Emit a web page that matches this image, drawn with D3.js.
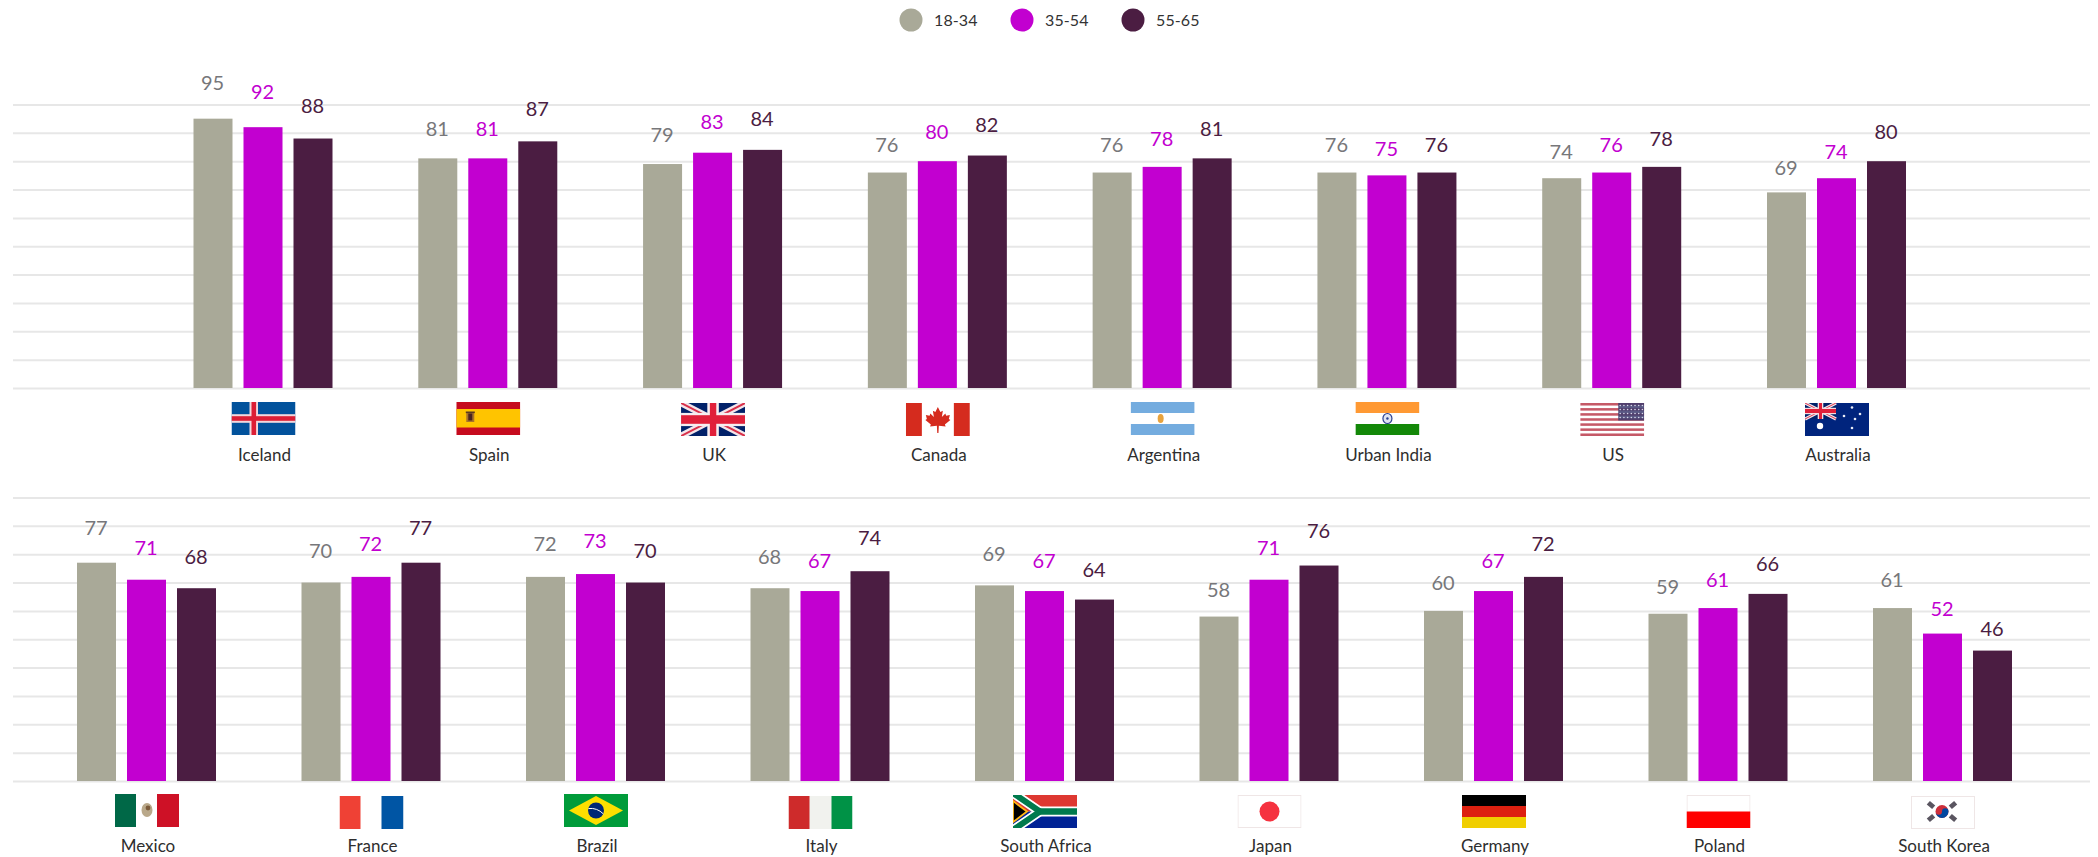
<!DOCTYPE html>
<html><head><meta charset="utf-8">
<script src="https://cdn.jsdelivr.net/npm/d3@7/dist/d3.min.js"></script>
<style>html,body{margin:0;padding:0;background:#fff;overflow:hidden}svg{display:block}text{font-family:Lato,sans-serif}</style>
</head><body><svg id="c" width="2098" height="857"></svg>
<script>
const seriesNames = ["18-34","35-54","55-65"];
const seriesColors = ["#a9a998","#c200d0","#4b1d42"];
const labelColors = ["#77777a","#c200d0","#4b1d42"];
const topCountries = ["Iceland","Spain","UK","Canada","Argentina","Urban India","US","Australia"];
const top1834 = [95,81,79,76,76,76,74,69];
const top3554 = [92,81,83,80,78,75,76,74];
const top5565 = [88,87,84,82,81,76,78,80];
const botCountries = ["Mexico","France","Brazil","Italy","South Africa","Japan","Germany","Poland","South Korea"];
const bot1834 = [77,70,72,68,69,58,60,59,61];
const bot3554 = [71,72,73,67,67,71,67,61,52];
const bot5565 = [68,77,70,74,64,76,72,66,46];
const gridTicks = [0,10,20,30,40,50,60,70,80,90,100];

const svg = d3.select("#c");
const FW=64, FH=33;
let clipId=0;
const flagNudge={"Iceland":-1,"Spain":-1,"Argentina":-1,"Urban India":-1,"Mexico":-1,"Brazil":-1,"France":1,"Italy":1,"South Korea":1};
const leaf="M32 4 L34.5 9 L37 7.8 L36 14 L39.5 10.5 L40.3 12.8 L44 12 L43 16 L44.5 17 L39 21.5 L39.8 23.5 L33 22.8 L32.6 30 L31.4 30 L31 22.8 L24.2 23.5 L25 21.5 L19.5 17 L21 16 L20 12 L23.7 12.8 L24.5 10.5 L28 14 L27 7.8 L29.5 9 Z";
function R(g,x,y,w,h,f,o){const r=g.append("rect").attr("x",x).attr("y",y).attr("width",w).attr("height",h).attr("fill",f);if(o!=null)r.attr("opacity",o);return r;}
function P(g,d,f,s,sw){return g.append("path").attr("d",d).attr("fill",f||"none").attr("stroke",s||"none").attr("stroke-width",sw||0);}
function C(g,x,y,r,f){return g.append("circle").attr("cx",x).attr("cy",y).attr("r",r).attr("fill",f);}
function union(g,w,h){
  R(g,0,0,w,h,"#012169");
  const d=`M0 0L${w} ${h}M${w} 0L0 ${h}`;
  P(g,d,null,"#f4e6ea",h*.2);P(g,d,null,"#d8304a",h*.06);
  R(g,w*.41,0,w*.18,h,"#f6eef0");R(g,0,h*.3,w,h*.4,"#f6eef0");
  R(g,w*.45,0,w*.1,h,"#e0203a");R(g,0,h*.37,w,h*.26,"#e0203a");
}
const frame=g=>g.append("rect").attr("x",.5).attr("y",.5).attr("width",FW-1).attr("height",FH-1).attr("fill","none").attr("stroke","#efe6e6").attr("stroke-width",1);
const flagDraw={
 "Iceland":g=>{R(g,0,0,FW,FH,"#02529c");R(g,18,0,8.5,FH,"#f2d8dc");R(g,0,12.2,FW,8.6,"#f2d8dc");R(g,20,0,4.6,FH,"#dc1e35");R(g,0,14.2,FW,4.6,"#dc1e35");},
 "Spain":g=>{R(g,0,0,FW,FH,"#c60b1e");R(g,0,7,FW,18.5,"#ffc400");R(g,10,10,8,10,"#a8722a");R(g,12,11.5,4,7,"#4a2420");R(g,9.5,9.5,9,1.6,"#5a3a20");},
 "UK":g=>union(g,FW,FH),
 "Canada":g=>{R(g,0,0,FW,FH,"#fff");R(g,0,0,16,FH,"#d52b1e");R(g,48,0,16,FH,"#d52b1e");P(g,leaf,"#d52b1e");},
 "Argentina":g=>{R(g,0,0,FW,FH,"#fff");R(g,0,0,FW,11,"#74acdf");R(g,0,22,FW,11,"#74acdf");g.append("ellipse").attr("cx",30).attr("cy",16.5).attr("rx",3).attr("ry",4.5).attr("fill","#e8a33d");},
 "Urban India":g=>{R(g,0,0,FW,FH,"#fff");R(g,0,0,FW,11,"#ff9933");R(g,0,22,FW,11,"#138808");g.append("ellipse").attr("cx",32).attr("cy",16.5).attr("rx",4.5).attr("ry",5).attr("fill","#dfe4f2").attr("stroke","#2b3f8f").attr("stroke-width",1.2);C(g,32,16.5,1.2,"#2b3f8f");},
 "US":g=>{R(g,0,0,FW,FH,"#fff");d3.range(7).forEach(i=>R(g,0,i*(FH/6.5),FW,FH/13,"#b22234",.75));R(g,38,0,26,17.5,"#3c3b6e",.85);
   d3.range(4).forEach(r=>d3.range(7).forEach(c=>C(g,40+c*3.7,2.5+r*4,.8,"#d8d8ea")));},
 "Australia":g=>{R(g,0,0,FW,FH,"#00247d");const u=g.append("g");union(u,31,16);
   C(g,15,23,3.2,"#fff");[[47,4.5],[39,13],[55,11],[50,16],[47,25]].forEach(s=>C(g,s[0],s[1],1.3,"#e8ecf6"));},
 "Mexico":g=>{R(g,0,0,FW,FH,"#fff");R(g,0,0,21,FH,"#006847");R(g,42,0,22,FH,"#ce1126");g.append("ellipse").attr("cx",32).attr("cy",16).attr("rx",5.5).attr("ry",7).attr("fill","#b9a88a");C(g,33,14,2.4,"#7b5a3a");},
 "France":g=>{R(g,0,0,FW,FH,"#fff");R(g,0,0,21,FH,"#ef4135");R(g,42,0,22,FH,"#0055a4");},
 "Brazil":g=>{R(g,0,0,FW,FH,"#009b3a");P(g,`M32 2L59 16.5L32 31L5 16.5Z`,"#fedf00");C(g,32,16.5,8,"#002776");P(g,"M24.5 14.5Q33 13.5 39.5 20",null,"#fff",1);},
 "Italy":g=>{R(g,0,0,FW,FH,"#f1f2ee");R(g,0,0,21,FH,"#ce2b2b");R(g,43,0,21,FH,"#009246");},
 "South Africa":g=>{R(g,0,0,FW,16.5,"#de3831");R(g,0,16.5,FW,16.5,"#002395");
   P(g,"M0 -2L27 16.5L0 35",null,"#fff",9.5);P(g,"M27 16.5H64",null,"#fff",10);
   P(g,"M0 -2L27 16.5L0 35",null,"#007a4d",6);P(g,"M27 16.5H64",null,"#007a4d",6.5);
   P(g,"M0 6L14 16.5L0 27Z","#000","#ffb612",1.8);},
 "Japan":g=>{R(g,0,0,FW,FH,"#fff");frame(g);C(g,32,16.5,10,"#f5323f");},
 "Germany":g=>{R(g,0,0,FW,11,"#000");R(g,0,11,FW,11,"#dd2010");R(g,0,22,FW,11,"#f0ce00");},
 "Poland":g=>{R(g,0,0,FW,FH,"#fff");frame(g);R(g,0,16.5,FW,16.5,"#ff0000");},
 "South Korea":g=>{R(g,0,0,FW,FH,"#fff");frame(g);
   C(g,31,15.5,6.5,"#cd2e3a");P(g,"M24.5 15.5A6.5 6.5 0 0 0 37.5 15.5A3.25 3.25 0 0 0 31 15.5A3.25 3.25 0 0 1 24.5 15.5Z","#0047a0");
   [[20,9,40],[42,9,-40],[20,22,-40],[42,22,40]].forEach(t=>{g.append("rect").attr("x",t[0]-3.5).attr("y",t[1]-2.4).attr("width",7).attr("height",4.8).attr("fill","#5a5560").attr("transform",`rotate(${t[2]} ${t[0]} ${t[1]})`);});}
};

function panel(countries,vals,cfg){
  const y=d3.scaleLinear().domain([0,100]).range([cfg.y0,cfg.y0-cfg.h]);
  const ly=d3.scaleLinear().domain([0,100]).range([cfg.y0-cfg.lc,cfg.y0-cfg.lc-cfg.lh]);
  const x0=d3.scalePoint().domain(countries).range(cfg.xr);
  const x1=d3.scaleBand().domain(seriesNames).range([-69.5,69.5]).paddingInner(.22).paddingOuter(0);
  const g=svg.append("g");
  const ax=g.append("g").attr("transform","translate(13,0)")
    .call(d3.axisLeft(y).tickValues(gridTicks).tickSize(-2077).tickFormat(""));
  ax.select(".domain").remove();
  ax.selectAll("line").attr("stroke","#e7e7e7").attr("stroke-width",2);
  seriesNames.forEach((s,si)=>{
    const col=g.append("g");
    col.selectAll("rect").data(countries).join("rect")
      .attr("x",c=>x0(c)+x1(s)).attr("width",x1.bandwidth())
      .attr("y",(c,i)=>y(vals[si][i])).attr("height",(c,i)=>y(0)-y(vals[si][i]))
      .attr("fill",seriesColors[si]);
    col.selectAll("text").data(countries).join("text")
      .attr("x",c=>x0(c)+x1(s)+x1.bandwidth()/2-.5).attr("y",(c,i)=>ly(vals[si][i]))
      .attr("dy","0.35em").attr("text-anchor","middle").attr("font-size",20)
      .attr("fill",labelColors[si]).text((c,i)=>vals[si][i]);
  });
  countries.forEach(c=>{
    const f=g.append("g").attr("transform",`translate(${x0(c)+.5-FW/2},${cfg.flagY+(flagNudge[c]||0)})`);
    clipId++;
    f.append("clipPath").attr("id","f"+clipId).append("rect").attr("width",FW).attr("height",FH);
    const inner=f.append("g").attr("clip-path",`url(#f${clipId})`);
    flagDraw[c](inner);
    g.append("text").attr("x",x0(c)+1.5).attr("y",cfg.nameY).attr("dy","0.35em")
      .attr("text-anchor","middle").attr("font-size",17).attr("fill","#2e2e2e").text(c);
  });
}
panel(topCountries,[top1834,top3554,top5565],{y0:388,h:283.5,lc:-8,lh:330,xr:[263,1836.5],flagY:403,nameY:455});
panel(botCountries,[bot1834,bot3554,bot5565],{y0:781,h:283.5,lc:2,lh:326,xr:[146.5,1942.5],flagY:795,nameY:846});

const legendX=d3.scalePoint().domain(seriesNames).range([911,1133]);
const lg=svg.append("g");
seriesNames.forEach((s,i)=>{
  C(lg,legendX(s),20,11.5,seriesColors[i]);
  lg.append("text").attr("x",legendX(s)+23).attr("y",20).attr("dy","0.35em")
    .attr("font-size",16).attr("letter-spacing",".1").attr("fill","#333").text(s);
});
</script></body></html>
